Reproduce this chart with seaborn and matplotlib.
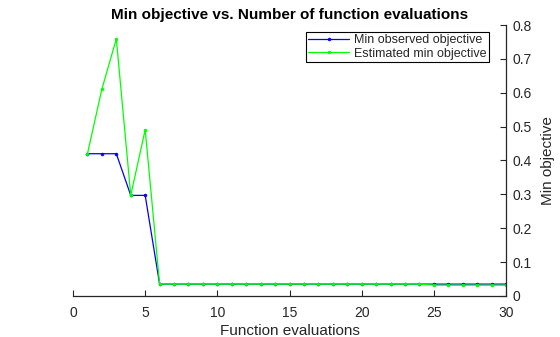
import matplotlib
matplotlib.use("Agg")
import matplotlib.pyplot as plt
import seaborn as sns
import pandas as pd

evaluations = list(range(1, 31))
min_observed = [0.420, 0.420, 0.420, 0.297, 0.297] + [0.035] * 25
estimated_min = [0.420, 0.611, 0.759, 0.297, 0.491] + [0.035] * 19 + [0.032] * 6
series_names = ["Min observed objective", "Estimated min objective"]
x_ticks = [0, 5, 10, 15, 20, 25, 30]
y_ticks = [0, 0.1, 0.2, 0.3, 0.4, 0.5, 0.6, 0.7, 0.8]

sns.set_style("white")
plt.rcParams["font.family"] = ["Liberation Sans", "DejaVu Sans"]

df = pd.DataFrame({
    "x": evaluations * 2,
    "y": min_observed + estimated_min,
    "series": [series_names[0]] * 30 + [series_names[1]] * 30,
})

fig = plt.figure(figsize=(5.6, 3.37), dpi=100)
ax = fig.add_axes([0.1304, 0.1217, 0.7732, 0.8041])
sns.lineplot(data=df, x="x", y="y", hue="series", palette=["#0000ff", "#00ff00"],
             marker="o", markersize=2.0, markeredgewidth=0.5, linewidth=0.9, ax=ax)
for ln in ax.lines:
    ln.set_markeredgecolor(ln.get_color())

ax.set_xlim(0, 30)
ax.set_ylim(0, 0.8)
ax.set_xticks(x_ticks)
ax.set_xticklabels([str(t) for t in x_ticks])
ax.set_yticks(y_ticks)
ax.set_yticklabels(["0", "0.1", "0.2", "0.3", "0.4", "0.5", "0.6", "0.7", "0.8"])
ax.yaxis.tick_right()
ax.yaxis.set_label_position("right")
for s in ["left", "top"]:
    ax.spines[s].set_visible(False)
for s in ["right", "bottom"]:
    ax.spines[s].set_color("#262626")
    ax.spines[s].set_linewidth(0.9)
ax.tick_params(axis="both", direction="in", length=4, width=0.8, color="#262626",
               labelsize=10, labelcolor="#262626")
ax.tick_params(axis="x", bottom=True, pad=7)
ax.tick_params(axis="y", right=True, left=False, pad=5)

ax.set_xlabel("Function evaluations", fontsize=11, color="#262626", labelpad=3)
ax.set_ylabel("Min objective", fontsize=11, color="#262626", labelpad=6)
ax.set_title("Min objective vs. Number of function evaluations", fontsize=11,
             fontweight="bold", color="#000000", pad=4)

leg = ax.legend(loc="upper right", bbox_to_anchor=(0.96, 0.975), fontsize=9,
                frameon=True, fancybox=False, edgecolor="#000000", framealpha=1,
                borderpad=0.2, handlelength=3.3, handletextpad=0.35, labelspacing=0.1,
                borderaxespad=0)
leg.get_frame().set_linewidth(0.8)
for ln in leg.get_lines():
    ln.set_markeredgecolor(ln.get_color())

fig.savefig("out.png", dpi=100)
